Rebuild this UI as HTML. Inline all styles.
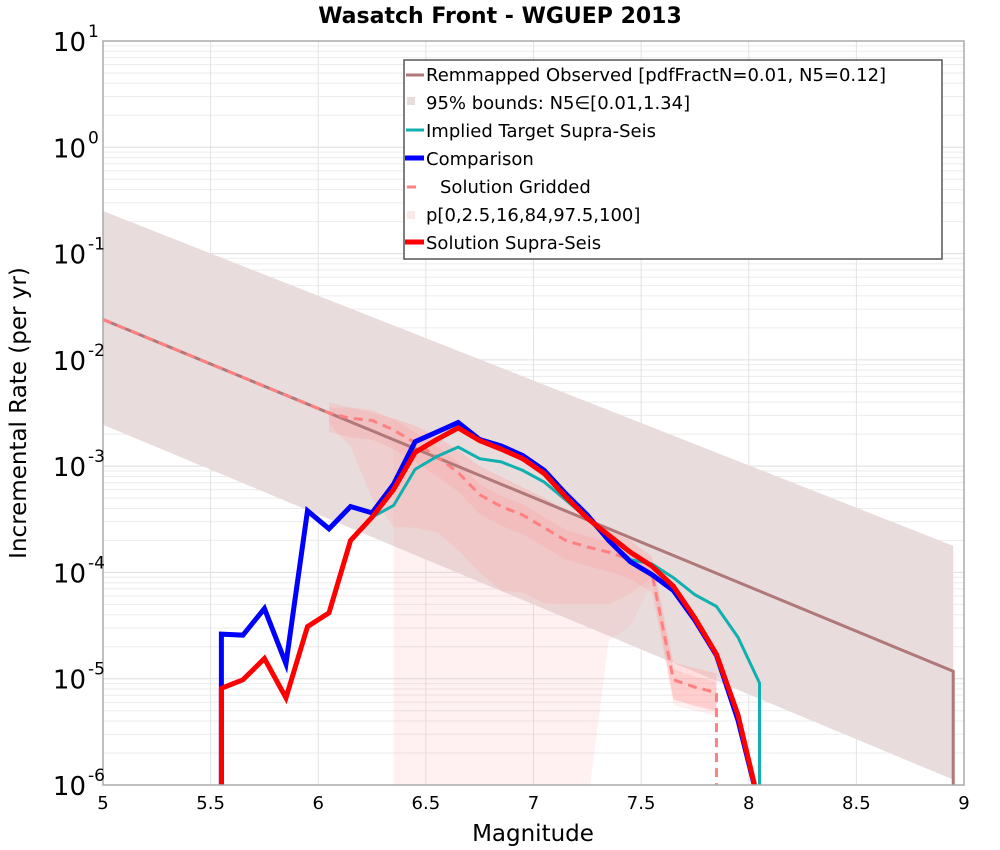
<!DOCTYPE html>
<html><head><meta charset="utf-8">
<style>
body{margin:0;background:#fff;}
svg{display:block;font-family:"DejaVu Sans","Liberation Sans",sans-serif;}
</style></head>
<body>
<svg id="chart" width="1000" height="850" xmlns="http://www.w3.org/2000/svg">
<text x="500" y="23" text-anchor="middle" font-size="22" font-weight="bold">Wasatch Front - WGUEP 2013</text>
<g id="grid"></g>
<g id="bands"></g>
<g id="series"></g>
<rect x="103" y="41" width="861" height="744" fill="none" stroke="#aaa" stroke-width="1.5"/>
<g id="ticks"></g>
<text x="533" y="841" text-anchor="middle" font-size="23">Magnitude</text>
<text transform="translate(26,413) rotate(-90)" text-anchor="middle" font-size="23">Incremental Rate (per yr)</text>
<g font-size="18">
<rect x="404" y="60" width="538" height="199" fill="#fff" stroke="#555" stroke-width="1.5"/>
<g><line x1="406" y1="75" x2="424" y2="75" stroke="#b07878" stroke-width="3"/><text x="426" y="81">Remmapped Observed [pdfFractN=0.01, N5=0.12]</text></g>
<g><rect x="407" y="97" width="8" height="8" fill="#e8dcdc"/><text x="426" y="109">95% bounds: N5∈[0.01,1.34]</text></g>
<g><line x1="406" y1="130" x2="424" y2="130" stroke="#10b0b0" stroke-width="3"/><text x="426" y="137">Implied Target Supra-Seis</text></g>
<g><line x1="405" y1="158" x2="424" y2="158" stroke="#0000ff" stroke-width="5"/><text x="426" y="165">Comparison</text></g>
<g><line x1="407" y1="187" x2="416" y2="187" stroke="#ff8080" stroke-width="3"/><text x="440" y="193">Solution Gridded</text></g>
<g><rect x="407" y="211" width="8" height="8" fill="#fbe8e8"/><text x="426" y="221">p[0,2.5,16,84,97.5,100]</text></g>
<g><line x1="405" y1="242" x2="424" y2="242" stroke="#ff0000" stroke-width="5"/><text x="426" y="249">Solution Supra-Seis</text></g>
</g>
</svg>
<script>
const mags = [5.55,5.65,5.75,5.85,5.95,6.05,6.15,6.25,6.35,6.45,6.55,6.65,6.75,6.85,6.95,7.05,7.15,7.25,7.35,7.45,7.55,7.65,7.75,7.85,7.95,8.05];
const comparisonLog = [-4.58,-4.59,-4.34,-4.86,-3.42,-3.59,-3.38,-3.44,-3.17,-2.77,-2.68,-2.59,-2.75,-2.81,-2.90,-3.04,-3.26,-3.46,-3.70,-3.90,-4.02,-4.17,-4.45,-4.78,-5.39,-6.2];
const supraLog = [-5.09,-5.01,-4.81,-5.18,-4.51,-4.38,-3.70,-3.48,-3.22,-2.87,-2.75,-2.64,-2.76,-2.84,-2.93,-3.07,-3.29,-3.49,-3.65,-3.81,-3.94,-4.13,-4.43,-4.77,-5.34,-6.2];
const targetMags = [6.25,6.35,6.45,6.55,6.65,6.75,6.85,6.95,7.05,7.15,7.25,7.35,7.45,7.55,7.65,7.75,7.85,7.95,8.05];
const targetLog = [-3.48,-3.37,-3.03,-2.91,-2.82,-2.93,-2.96,-3.04,-3.15,-3.32,-3.49,-3.70,-3.88,-3.92,-4.05,-4.21,-4.32,-4.61,-5.04];
const griddedMags = [5.0,6.05,6.15,6.25,6.35,6.45,6.55,6.65,6.75,6.85,6.95,7.05,7.15,7.25,7.35,7.45,7.55,7.65,7.75,7.85];
const griddedLog = [-1.62,-2.50,-2.55,-2.57,-2.66,-2.78,-2.91,-3.06,-3.27,-3.38,-3.46,-3.58,-3.70,-3.76,-3.81,-3.88,-4.01,-5.01,-5.08,-5.13];
const remapStart = [5.0,-1.62];
const remapEnd = [8.95,-4.93];
const boundsUpper = [[5.0,-0.60],[8.95,-3.75]];
const boundsLower = [[5.0,-2.61],[8.95,-5.95]];
const pOuterMags = [6.35,6.45,6.55,6.65,6.75,6.85,6.95,7.05,7.15,7.25,7.35,7.45,7.55,7.65,7.75,7.85];
const pOuterLow = [-6.2,-6.2,-6.2,-6.2,-6.2,-6.2,-6.2,-6.2,-6.2,-6.2,-4.64,-4.5,-4.1,-5.25,-5.3,-5.35];
const pOuterHigh = [-2.55,-2.62,-2.72,-2.85,-3.0,-3.1,-3.2,-3.3,-3.4,-3.5,-3.6,-3.7,-3.85,-4.85,-4.9,-4.95];
const pMidMags = [6.05,6.15,6.25,6.35,6.45,6.55,6.65,6.75,6.85,6.95,7.05,7.15,7.25,7.35,7.45,7.55,7.65,7.75,7.85];
const pMidLow = [-2.6,-2.82,-3.3,-3.57,-3.58,-3.62,-3.79,-4.0,-4.17,-4.19,-4.29,-4.3,-4.3,-4.3,-4.2,-4.05,-5.2,-5.25,-5.3];
const pMidHigh = [-2.45,-2.45,-2.5,-2.55,-2.62,-2.72,-2.85,-3.0,-3.1,-3.2,-3.3,-3.42,-3.52,-3.6,-3.7,-3.85,-4.85,-4.9,-4.95];
const xTicks = [5,5.5,6,6.5,7,7.5,8,8.5,9];
const yExps = [1,0,-1,-2,-3,-4,-5,-6];

const NS='http://www.w3.org/2000/svg';
const X0=103,X1=964,Y0=41,Y1=785;
const xs=m=>X0+(m-5)/4*(X1-X0);
const ys=l=>Y0+(1-l)/7*(Y1-Y0);
function mk(tag,parent,attrs){const e=document.createElementNS(NS,tag);for(const k in attrs)e.setAttribute(k,attrs[k]);parent.appendChild(e);return e;}
const grid=document.getElementById('grid'),bands=document.getElementById('bands'),series=document.getElementById('series'),ticks=document.getElementById('ticks');
for(let d=-6;d<1;d++){for(let k=1;k<10;k++){const y=ys(d+Math.log10(k));
 const l=mk('line',grid,{x1:X0,x2:X1,y1:y,y2:y,stroke:k==1?'#ddd':'#ebebeb','stroke-width':1});
 }}
xTicks.forEach(m=>{const l=mk('line',grid,{x1:xs(m),x2:xs(m),y1:Y0,y2:Y1,stroke:'#e2e2e2','stroke-width':1});
 
 const t=mk('text',ticks,{x:xs(m),y:809,'text-anchor':'middle','font-size':18});t.textContent=String(m);
 });
yExps.forEach(e=>{const t=mk('text',ticks,{x:86,y:ys(e)+10,'text-anchor':'end','font-size':26});t.textContent='10';
 
 const s=mk('text',ticks,{x:88,y:ys(e)-4,'font-size':17});s.textContent=String(e);
 });
const clip=mk('clipPath',document.getElementById('chart'),{id:'pc'});mk('rect',clip,{x:X0,y:Y0,width:X1-X0,height:Y1-Y0});
bands.setAttribute('clip-path','url(#pc)');series.setAttribute('clip-path','url(#pc)');
function pts(ms,ls){return ms.map((m,i)=>xs(m)+','+ys(ls[i])).join(' ');}
function band(ms,lo,hi,fill,name){const p=mk('polygon',bands,{points:pts(ms,hi)+' '+pts(ms.slice().reverse(),lo.slice().reverse()),fill:fill});
 }
const bp=[boundsUpper[0],boundsUpper[1],[boundsUpper[1][0],-6.5],[boundsLower[1][0],-6.5],boundsLower[1],boundsLower[0]].map(p=>xs(p[0])+','+ys(p[1])).join(' ');
const bpoly=mk('polygon',bands,{points:bp,fill:'#e9dcdc'});

band(pOuterMags,pOuterLow,pOuterHigh,'rgba(255,170,170,0.17)','percentile-band-outer');
band(pMidMags,pMidLow,pMidHigh,'rgba(255,160,160,0.22)','percentile-band-mid');
band(griddedMags.slice(1),griddedLog.slice(1).map(v=>v-0.18),griddedLog.slice(1).map(v=>v+0.1),'rgba(255,150,150,0.22)','percentile-band-inner');
function line(ms,ls,stroke,w,name,dash){const a={points:pts(ms,ls),fill:'none',stroke:stroke,'stroke-width':w,'stroke-linejoin':'miter'};if(dash)a['stroke-dasharray']=dash;
 const p=mk('polyline',series,a);}
line([remapStart[0],remapEnd[0],remapEnd[0]],[remapStart[1],remapEnd[1],-6.5],'#b07878',3,'remapped-observed-line');
line(griddedMags.concat([7.85]),griddedLog.concat([-6.5]),'#ff8080',3,'solution-gridded-line','9,6');
line(targetMags.concat([8.05]),targetLog.concat([-6.5]),'#10b0b0',3,'implied-target-line');
line([5.55].concat(mags),[-6.5].concat(comparisonLog),'#0000ff',5,'comparison-line');
line([5.55].concat(mags),[-6.5].concat(supraLog),'#ff0000',5,'solution-supra-line');
</script>
</body></html>
